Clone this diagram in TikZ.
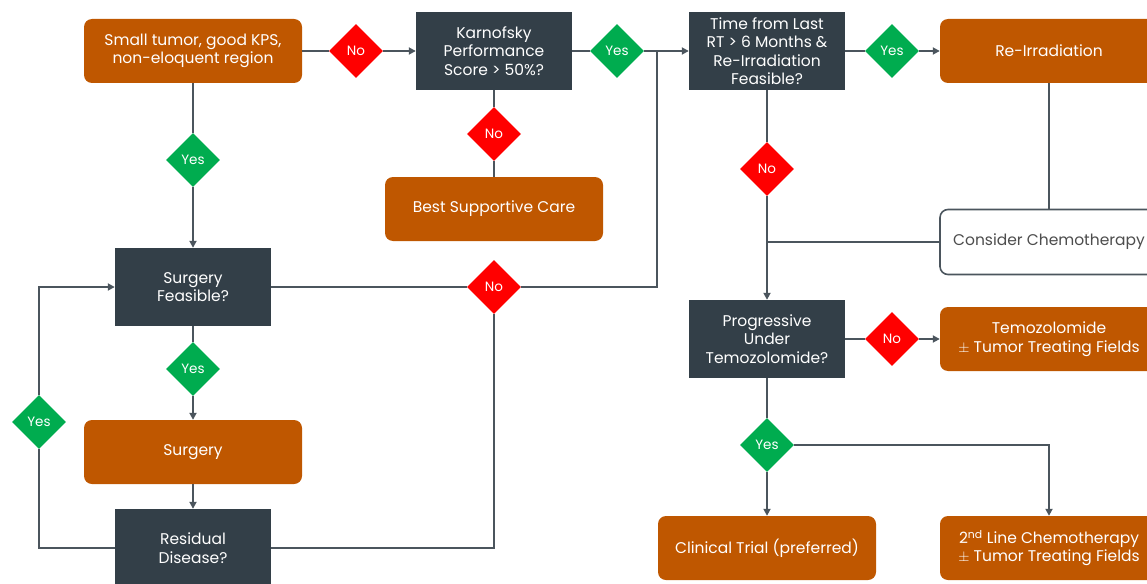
\documentclass[tikz,border=0pt]{standalone}
\usepackage{fontspec}
\setmainfont{Poppins}
\usetikzlibrary{shapes.geometric,arrows.meta}
\definecolor{uorange}{HTML}{BF5700}
\definecolor{udark}{HTML}{333F48}
\definecolor{ugreen}{HTML}{00AC4F}
\definecolor{ured}{HTML}{FF0000}
\definecolor{uline}{HTML}{4B555D}
\definecolor{ugrey}{HTML}{4D4D4D}
\begin{document}
\begin{tikzpicture}[x=1pt,y=-1pt,
  every node/.style={font=\fontsize{15.5}{18.5}\selectfont, align=center, inner sep=0pt},
  orangebox/.style={rectangle, rounded corners=8pt, fill=uorange, text=white, minimum width=218pt, minimum height=64pt},
  darkbox/.style={rectangle, fill=udark, text=white, minimum width=156pt, minimum height=78pt},
  whitebox/.style={rectangle, rounded corners=8pt, draw=uline, line width=1.6pt, fill=white, text=ugrey, minimum width=218pt, minimum height=65pt},
  yesd/.style={diamond, aspect=1, fill=ugreen, text=white, minimum width=54pt, minimum height=54pt, font=\fontsize{13.5}{15}\selectfont},
  nod/.style={diamond, aspect=1, fill=ured, text=white, minimum width=54pt, minimum height=54pt, font=\fontsize{13.5}{15}\selectfont},
  conn/.style={draw=uline, line width=2pt},
  arr/.style={conn, -{Triangle[length=7pt,width=7pt]}}
]
\useasboundingbox (0,0) rectangle (1147,583);

% nodes
\node[orangebox] (small) at (193,51) {Small tumor, good KPS,\\non-eloquent region};
\node[nod] (no1) at (356,51) {No};
\node[darkbox] (kps) at (494,51) {Karnofsky\\Performance\\Score > 50\%?};
\node[yesd] (yes1) at (617,51) {Yes};
\node[darkbox] (time) at (767,51) {Time from Last\\RT > 6 Months \&\\Re-Irradiation\\Feasible?};
\node[yesd] (yes2) at (892,51) {Yes};
\node[orangebox] (reirr) at (1049,51) {Re-Irradiation};

\node[nod] (no4) at (494,134) {No};
\node[orangebox] (bsc) at (494,209) {Best Supportive Care};
\node[yesd] (yes3) at (193,160) {Yes};
\node[nod] (no2) at (767,169) {No};
\node[whitebox] (consider) at (1049,242) {Consider Chemotherapy};

\node[darkbox] (sf) at (193,287) {Surgery\\Feasible?};
\node[nod] (no3) at (494,287) {No};
\node[darkbox] (prog) at (767,339) {Progressive\\Under\\Temozolomide?};
\node[nod] (no5) at (892,339) {No};
\node[orangebox] (temo) at (1049,339) {Temozolomide\\$\pm$ Tumor Treating Fields};

\node[yesd] (yes4) at (193,369) {Yes};
\node[yesd] (yes5) at (39,422) {Yes};
\node[orangebox] (surg) at (193,452) {Surgery};
\node[darkbox] (rd) at (193,548) {Residual\\Disease?};

\node[yesd] (yes6) at (767,445) {Yes};
\node[orangebox] (ct) at (767,548) {Clinical Trial (preferred)};
\node[orangebox] (sl) at (1049,548) {2\textsuperscript{nd} Line Chemotherapy\\$\pm$ Tumor Treating Fields};

% junctions
\coordinate (j1) at (657,51);
\coordinate (j2) at (657,287);
\coordinate (j3) at (767,242);
\coordinate (j4) at (494,548);
\coordinate (j5) at (39,548);
\coordinate (j6) at (39,287);
\coordinate (j7) at (1049,445);

% connectors
\draw[conn] (small.east) -- (no1.west);
\draw[arr] (no1.east) -- (kps.west);
\draw[conn] (kps.east) -- (yes1.west);
\draw[arr] (yes1.east) -- (time.west);
\draw[conn] (time.east) -- (yes2.west);
\draw[arr] (yes2.east) -- (reirr.west);
\draw[conn] (reirr.south) -- (consider.north);
\draw[conn] (consider.west) -- (j3);
\draw[conn] (time.south) -- (no2.north);
\draw[arr] (no2.south) -- (prog.north);
\draw[conn] (kps.south) -- (no4.north);
\draw[conn] (no4.south) -- (bsc.north);
\draw[conn] (small.south) -- (yes3.north);
\draw[arr] (yes3.south) -- (sf.north);
\draw[conn] (sf.east) -- (no3.west);
\draw[conn] (no3.east) -- (j2) -- (j1);
\draw[conn] (no3.south) -- (j4) -- (rd.east);
\draw[conn] (sf.south) -- (yes4.north);
\draw[arr] (yes4.south) -- (surg.north);
\draw[arr] (surg.south) -- (rd.north);
\draw[conn] (rd.west) -- (j5) -- (yes5.south);
\draw[arr] (yes5.north) -- (j6) -- (sf.west);
\draw[conn] (prog.east) -- (no5.west);
\draw[arr] (no5.east) -- (temo.west);
\draw[conn] (prog.south) -- (yes6.north);
\draw[arr] (yes6.south) -- (ct.north);
\draw[arr] (yes6.east) -- (j7) -- (sl.north);
\end{tikzpicture}
\end{document}
